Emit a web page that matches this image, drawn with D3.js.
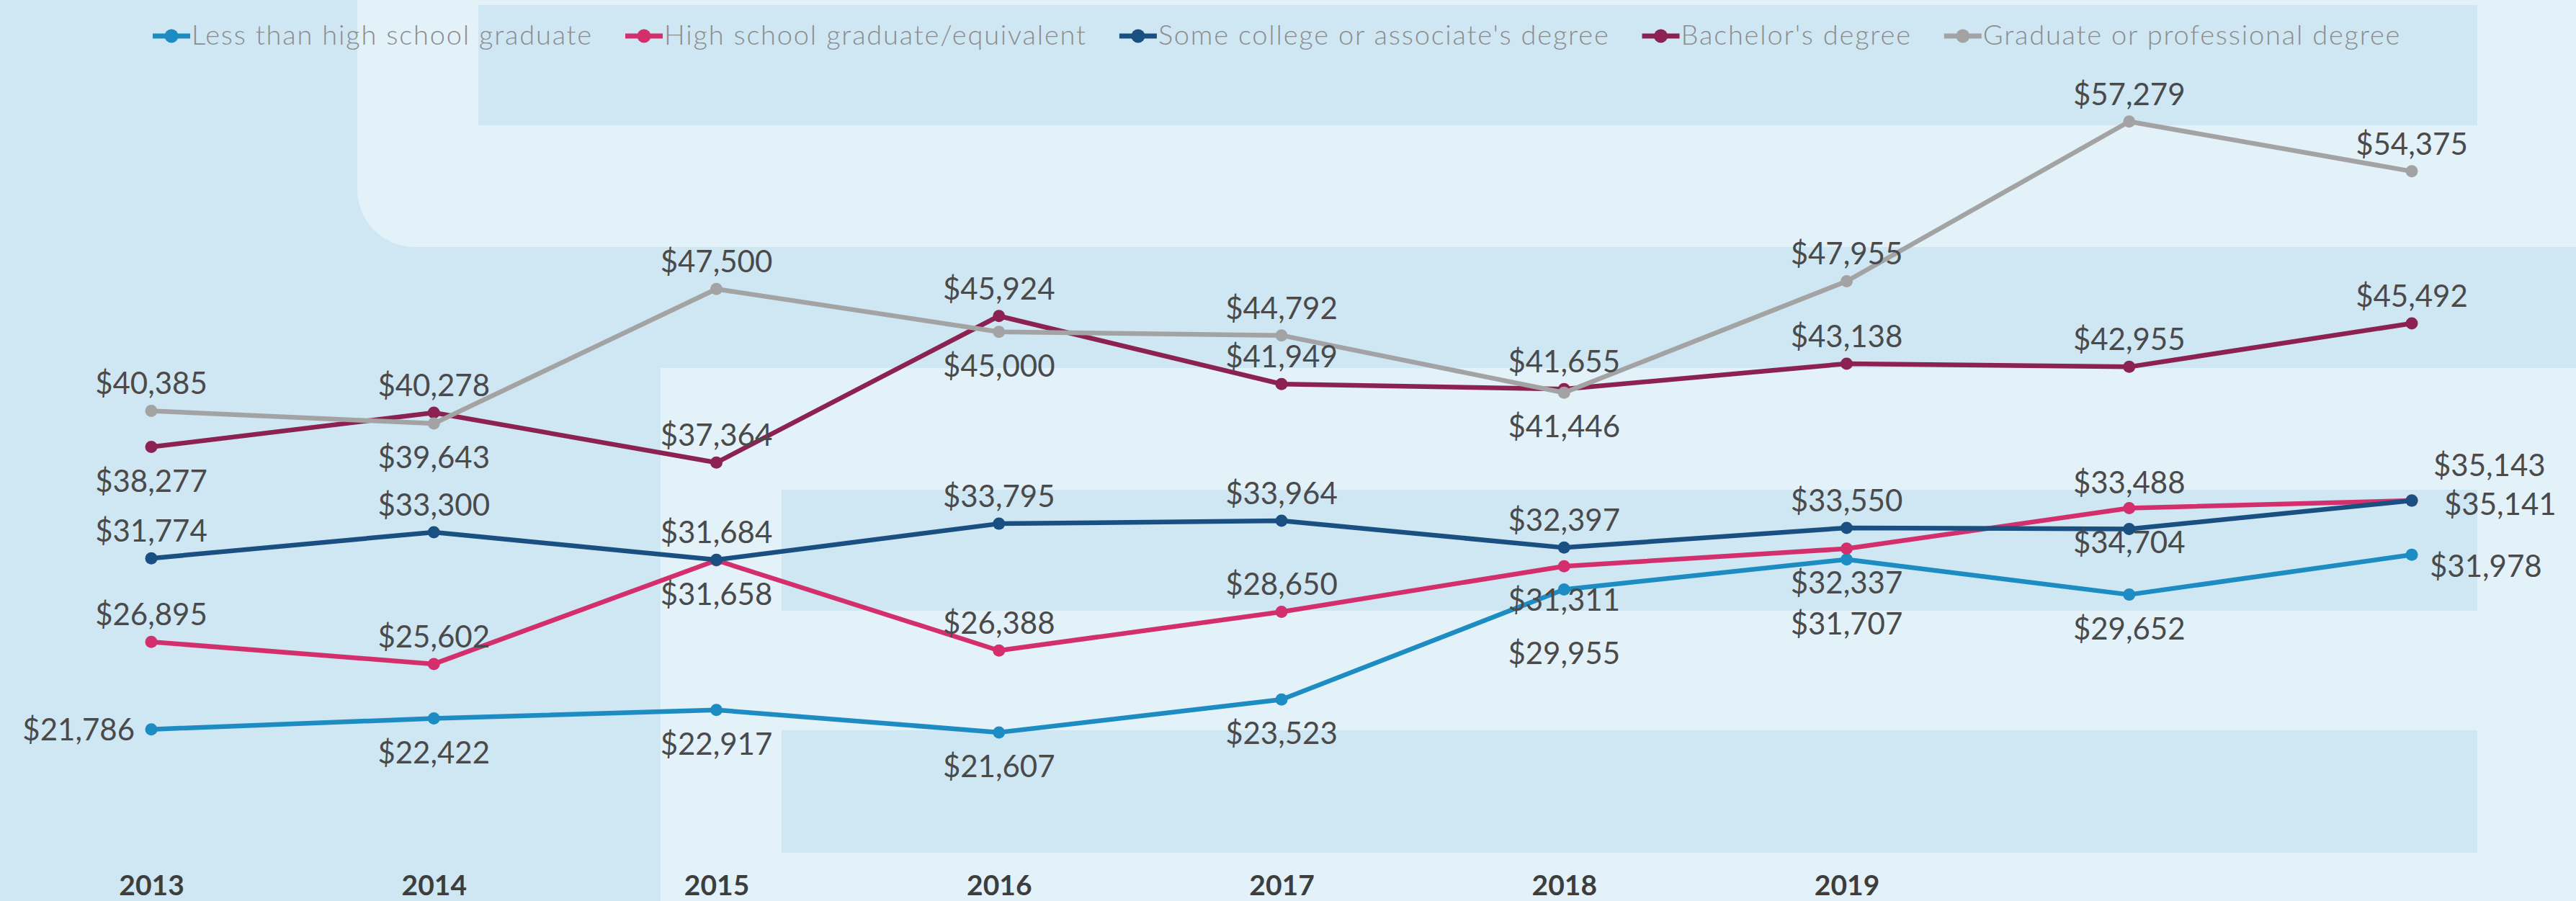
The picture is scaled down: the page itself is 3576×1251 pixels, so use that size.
<!DOCTYPE html>
<html lang="en">
<head>
<meta charset="UTF-8">
<title>Earnings by educational attainment</title>
<script src="https://d3js.org/d3.v7.min.js"></script>
<style>
  body { margin: 0; background-color: #cfe6f3; overflow: hidden; }
  .value-label { font-family: "Lato", sans-serif; font-size: 42px; fill: #4a4a4a; }
  .year-axis text { font-family: "Lato", sans-serif; font-size: 39px; font-weight: 700; fill: #3d3d3d; }
  .legend text { font-family: "Lato", sans-serif; font-weight: 300; font-size: 38px; letter-spacing: 1.8px; fill: #8c8c8c; }
  .line { fill: none; stroke-width: 6.5px; stroke-linejoin: round; stroke-linecap: round; }
</style>
</head>
<body>
<script>
// data
const years = ["2013", "2014", "2015", "2016", "2017", "2018", "2019", "2020", "2021"];
const yearTicks = ["2013", "2014", "2015", "2016", "2017", "2018", "2019"];

const seriesNames = [
  "Less than high school graduate",
  "High school graduate/equivalent",
  "Some college or associate's degree",
  "Bachelor's degree",
  "Graduate or professional degree"
];
const lessThanHS   = [21786, 22422, 22917, 21607, 23523, 29955, 31707, 29652, 31978];
const highSchool   = [26895, 25602, 31658, 26388, 28650, 31311, 32337, 34704, 35141];
const someCollege  = [31774, 33300, 31684, 33795, 33964, 32397, 33550, 33488, 35143];
const bachelors    = [38277, 40278, 37364, 45924, 41949, 41655, 43138, 42955, 45492];
const graduate     = [40385, 39643, 47500, 45000, 44792, 41446, 47955, 57279, 54375];

// where each value label sits relative to its point
const lessThanHSPlace  = ["left", "below", "below", "below", "below", "below2", "below2", "below", "right"];
const highSchoolPlace  = ["above", "above", "below", "above", "above", "below", "below", "below", "rightMid"];
const someCollegePlace = ["above", "above", "above", "above", "above", "above", "above", "above2", "rightUp"];
const bachelorsPlace   = ["below", "above", "above", "above", "above", "above", "above", "above", "above"];
const graduatePlace    = ["above", "below", "above", "below", "above", "below", "above", "above", "above"];

const colors = ["#1c8cc2", "#d42f6d", "#1a4f82", "#8c2252", "#a3a3a3"];

const series = [
  {name: seriesNames[0], values: lessThanHS,  place: lessThanHSPlace,  color: colors[0]},
  {name: seriesNames[1], values: highSchool,  place: highSchoolPlace,  color: colors[1]},
  {name: seriesNames[2], values: someCollege, place: someCollegePlace, color: colors[2]},
  {name: seriesNames[3], values: bachelors,   place: bachelorsPlace,   color: colors[3]},
  {name: seriesNames[4], values: graduate,    place: graduatePlace,    color: colors[4]}
];
// drawing order (last on top)
const drawOrder = [3, 4, 0, 1, 2];

const offsets = {
  above:    {dx: 0,   dy: -23, anchor: "middle"},
  above2:   {dx: 0,   dy: -49, anchor: "middle"},
  below:    {dx: 0,   dy: 62,  anchor: "middle"},
  below2:   {dx: 0,   dy: 104, anchor: "middle"},
  left:     {dx: -23, dy: 15,  anchor: "end"},
  right:    {dx: 25,  dy: 31,  anchor: "start"},
  rightMid: {dx: 45,  dy: 20,  anchor: "start"},
  rightUp:  {dx: 30,  dy: -34, anchor: "start"}
};

const width = 3576, height = 1251;

const svg = d3.select("body").append("svg")
  .attr("width", width)
  .attr("height", height);

// background panels
svg.append("rect").attr("width", width).attr("height", height).attr("fill", "#cfe6f3");
svg.append("path")
  .attr("d", "M496,0 H3576 V343 H576 A80,80 0 0 1 496,263 Z")
  .attr("fill", "#e3f1f9");
svg.append("rect").attr("x", 664).attr("y", 7).attr("width", 2775).attr("height", 167).attr("fill", "#cfe6f3");
svg.append("rect").attr("x", 917).attr("y", 511).attr("width", width - 917).attr("height", height - 511).attr("fill", "#e3f1f9");
svg.append("rect").attr("x", 1085).attr("y", 680).attr("width", 2354).attr("height", 168).attr("fill", "#cfe6f3");
svg.append("rect").attr("x", 1085).attr("y", 1014).attr("width", 2354).attr("height", 170).attr("fill", "#cfe6f3");

// scales
const x = d3.scalePoint().domain(years).range([210, 3348]);
const y = d3.scaleLinear().domain([20000, 60000]).range([1055.1, 104.1]);

const line = d3.line()
  .x((d, i) => x(years[i]))
  .y(d => y(d));

const fmt = d3.format("$,");

// lines and points
drawOrder.forEach(k => {
  const s = series[k];
  const g = svg.append("g");
  g.append("path")
    .attr("class", "line")
    .attr("stroke", s.color)
    .attr("d", line(s.values));
  g.selectAll("circle")
    .data(s.values)
    .enter().append("circle")
    .attr("cx", (d, i) => x(years[i]))
    .attr("cy", d => y(d))
    .attr("r", 8.5)
    .attr("fill", s.color);
});

// value labels
series.forEach(s => {
  svg.append("g").selectAll("text")
    .data(s.values)
    .enter().append("text")
    .attr("class", "value-label")
    .attr("x", (d, i) => x(years[i]) + offsets[s.place[i]].dx)
    .attr("y", (d, i) => y(d) + offsets[s.place[i]].dy)
    .attr("text-anchor", (d, i) => offsets[s.place[i]].anchor)
    .text(d => fmt(d));
});

// year axis
const xAxis = svg.append("g")
  .attr("class", "year-axis")
  .attr("transform", "translate(0,1243)")
  .call(d3.axisBottom(x).tickValues(yearTicks).tickSize(0));
xAxis.select(".domain").remove();
xAxis.selectAll("text").attr("y", 0).attr("dy", null);

// legend
const legend = svg.append("g").attr("class", "legend");
let cursor = 212;
series.forEach(s => {
  const item = legend.append("g").attr("transform", `translate(${cursor},50)`);
  item.append("line")
    .attr("x1", 0).attr("x2", 52)
    .attr("stroke", s.color)
    .attr("stroke-width", 7);
  item.append("circle")
    .attr("cx", 26).attr("r", 9.5)
    .attr("fill", s.color);
  const t = item.append("text")
    .attr("x", 54)
    .attr("y", 12)
    .text(s.name);
  cursor += 54 + t.node().getComputedTextLength() + 45;
});
</script>
</body>
</html>
